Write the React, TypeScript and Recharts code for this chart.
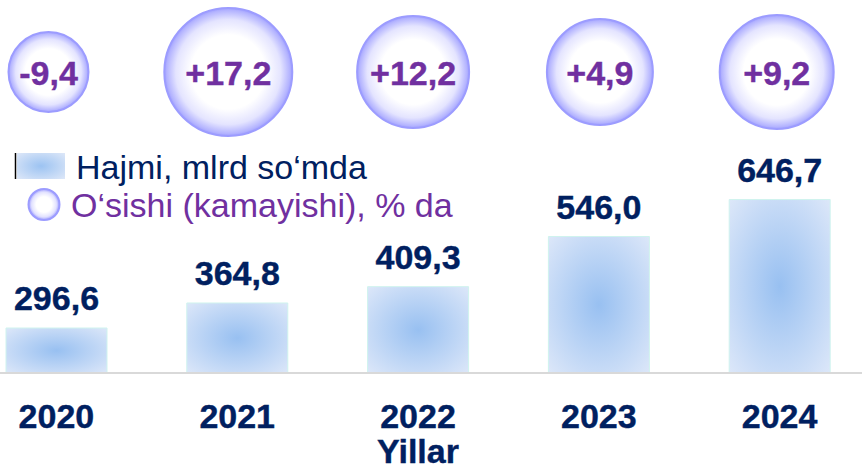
import React from 'react';
import { ComposedChart, Bar, XAxis, YAxis, LabelList } from 'recharts';

const years = ['2020', '2021', '2022', '2023', '2024'];
const volume = [296.6, 364.8, 409.3, 546.0, 646.7];
const growth = [-9.4, 17.2, 12.2, 4.9, 9.2];

const data = years.map((y, i) => ({ year: y, volume: volume[i], growth: growth[i] }));

// style constants (bubble look)
const BUBBLE_R = [40, 64, 56, 53, 57];
const BUBBLE_DX = [-8, -9, -5, 1, -3];
const BUBBLE_CY = 72;

const FONT = '"Liberation Sans", Arial, sans-serif';
const NAVY = '#002060';
const PURPLE = '#7030A0';

const fmt = (v: number) => v.toFixed(1).replace('.', ',');
const fmtSigned = (v: number) => (v > 0 ? '+' : '-') + Math.abs(v).toFixed(1).replace('.', ',');

const ValueLabel = (props: any) => {
  const { x, y, width, value } = props;
  return (
    <text x={x + width / 2} y={y - 18} textAnchor="middle" fontFamily={FONT} fontWeight="bold" fontSize={34} fill={NAVY} stroke={NAVY} strokeWidth={0.4}>
      {fmt(Number(value))}
    </text>
  );
};

const Bubble = (props: any) => {
  const { x, width, value, index } = props;
  const i = index ?? 0;
  const cx = x + width / 2 + (BUBBLE_DX[i] ?? 0);
  const r = BUBBLE_R[i] ?? 50;
  return (
    <g>
      <circle cx={cx} cy={BUBBLE_CY} r={r} fill="url(#bubbleGrad)" stroke="#9C9CFF" strokeWidth={2} />
      <text x={cx} y={BUBBLE_CY + 13} textAnchor="middle" fontFamily={FONT} fontWeight="bold" fontSize={34} fill={PURPLE} stroke={PURPLE} strokeWidth={0.4}>
        {fmtSigned(Number(value))}
      </text>
    </g>
  );
};

const YearTick = (props: any) => {
  const { x, y, payload } = props;
  return (
    <text x={x} y={y + 55} textAnchor="middle" fontFamily={FONT} fontWeight="bold" fontSize={34} fill={NAVY} stroke={NAVY} strokeWidth={0.4}>
      {payload.value}
    </text>
  );
};

const AxisTitle = (props: any) => {
  const { viewBox } = props;
  const cx = viewBox.x + viewBox.width / 2;
  return (
    <text x={cx} y={463} textAnchor="middle" fontFamily={FONT} fontWeight="bold" fontSize={34} fill={NAVY} stroke={NAVY} strokeWidth={0.4}>
      Yillar
    </text>
  );
};

const LegendBlock = () => (
  <svg width={480} height={90} style={{ display: 'block' }}>
    <defs>
      <radialGradient id="legBox" cx="50%" cy="50%" r="70%">
        <stop offset="0%" stopColor="#9CC3F2" />
        <stop offset="100%" stopColor="#DDE7F8" />
      </radialGradient>
      <radialGradient id="legBubble" cx="50%" cy="50%" r="50%">
        <stop offset="0%" stopColor="#FFFFFF" />
        <stop offset="50%" stopColor="#FFFFFF" />
        <stop offset="80%" stopColor="#E2E2FF" />
        <stop offset="100%" stopColor="#A0A0FF" />
      </radialGradient>
    </defs>
    <line x1={15.5} y1={13} x2={15.5} y2={39} stroke="#000" strokeWidth={1.5} />
    <rect x={17} y={13} width={48} height={26} fill="url(#legBox)" />
    <text x={76} y={39} fontFamily={FONT} fontSize={34} fill={NAVY}>Hajmi, mlrd so‘mda</text>
    <circle cx={44} cy={64.5} r={15.5} fill="url(#legBubble)" stroke="#9C9CFF" strokeWidth={2} />
    <text x={71} y={77} fontFamily={FONT} fontSize={34} fill={PURPLE}>O‘sishi (kamayishi), % da</text>
  </svg>
);

export default function App() {
  return (
    <div style={{ position: 'absolute', left: 0, top: 0, width: 862, height: 468, overflow: 'hidden', background: '#fff' }}>
      <div style={{ position: 'absolute', left: -34, top: 0 }}>
        <ComposedChart width={904} height={468} data={data} margin={{ top: 180, right: 0, left: 0, bottom: 0 }}>
          <defs>
            <radialGradient id="barGrad" cx="50%" cy="50%" r="72%">
              <stop offset="0%" stopColor="#98C0F1" />
              <stop offset="100%" stopColor="#DEE8F9" />
            </radialGradient>
            <radialGradient id="bubbleGrad" cx="50%" cy="50%" r="50%">
              <stop offset="0%" stopColor="#FFFFFF" />
              <stop offset="58%" stopColor="#FFFFFF" />
              <stop offset="82%" stopColor="#E4E4FF" />
              <stop offset="96%" stopColor="#B4B4FF" />
              <stop offset="100%" stopColor="#A0A0FF" />
            </radialGradient>
          </defs>
          <XAxis
            dataKey="year"
            height={95}
            axisLine={{ stroke: '#D9D9D9', strokeWidth: 2 }}
            tickLine={false}
            tickSize={0}
            tickMargin={0}
            tick={<YearTick />}
            interval={0}
            label={<AxisTitle />}
          />
          <YAxis hide domain={[174, 700]} allowDataOverflow />
          <Bar dataKey="volume" barSize={101} fill="url(#barGrad)" stroke="#CFF3EE" strokeWidth={1} isAnimationActive={false}>
            <LabelList dataKey="volume" content={<ValueLabel />} />
            <LabelList dataKey="growth" content={<Bubble />} />
          </Bar>
        </ComposedChart>
      </div>
      <div style={{ position: 'absolute', left: 0, top: 140 }}>
        <LegendBlock />
      </div>
    </div>
  );
}
